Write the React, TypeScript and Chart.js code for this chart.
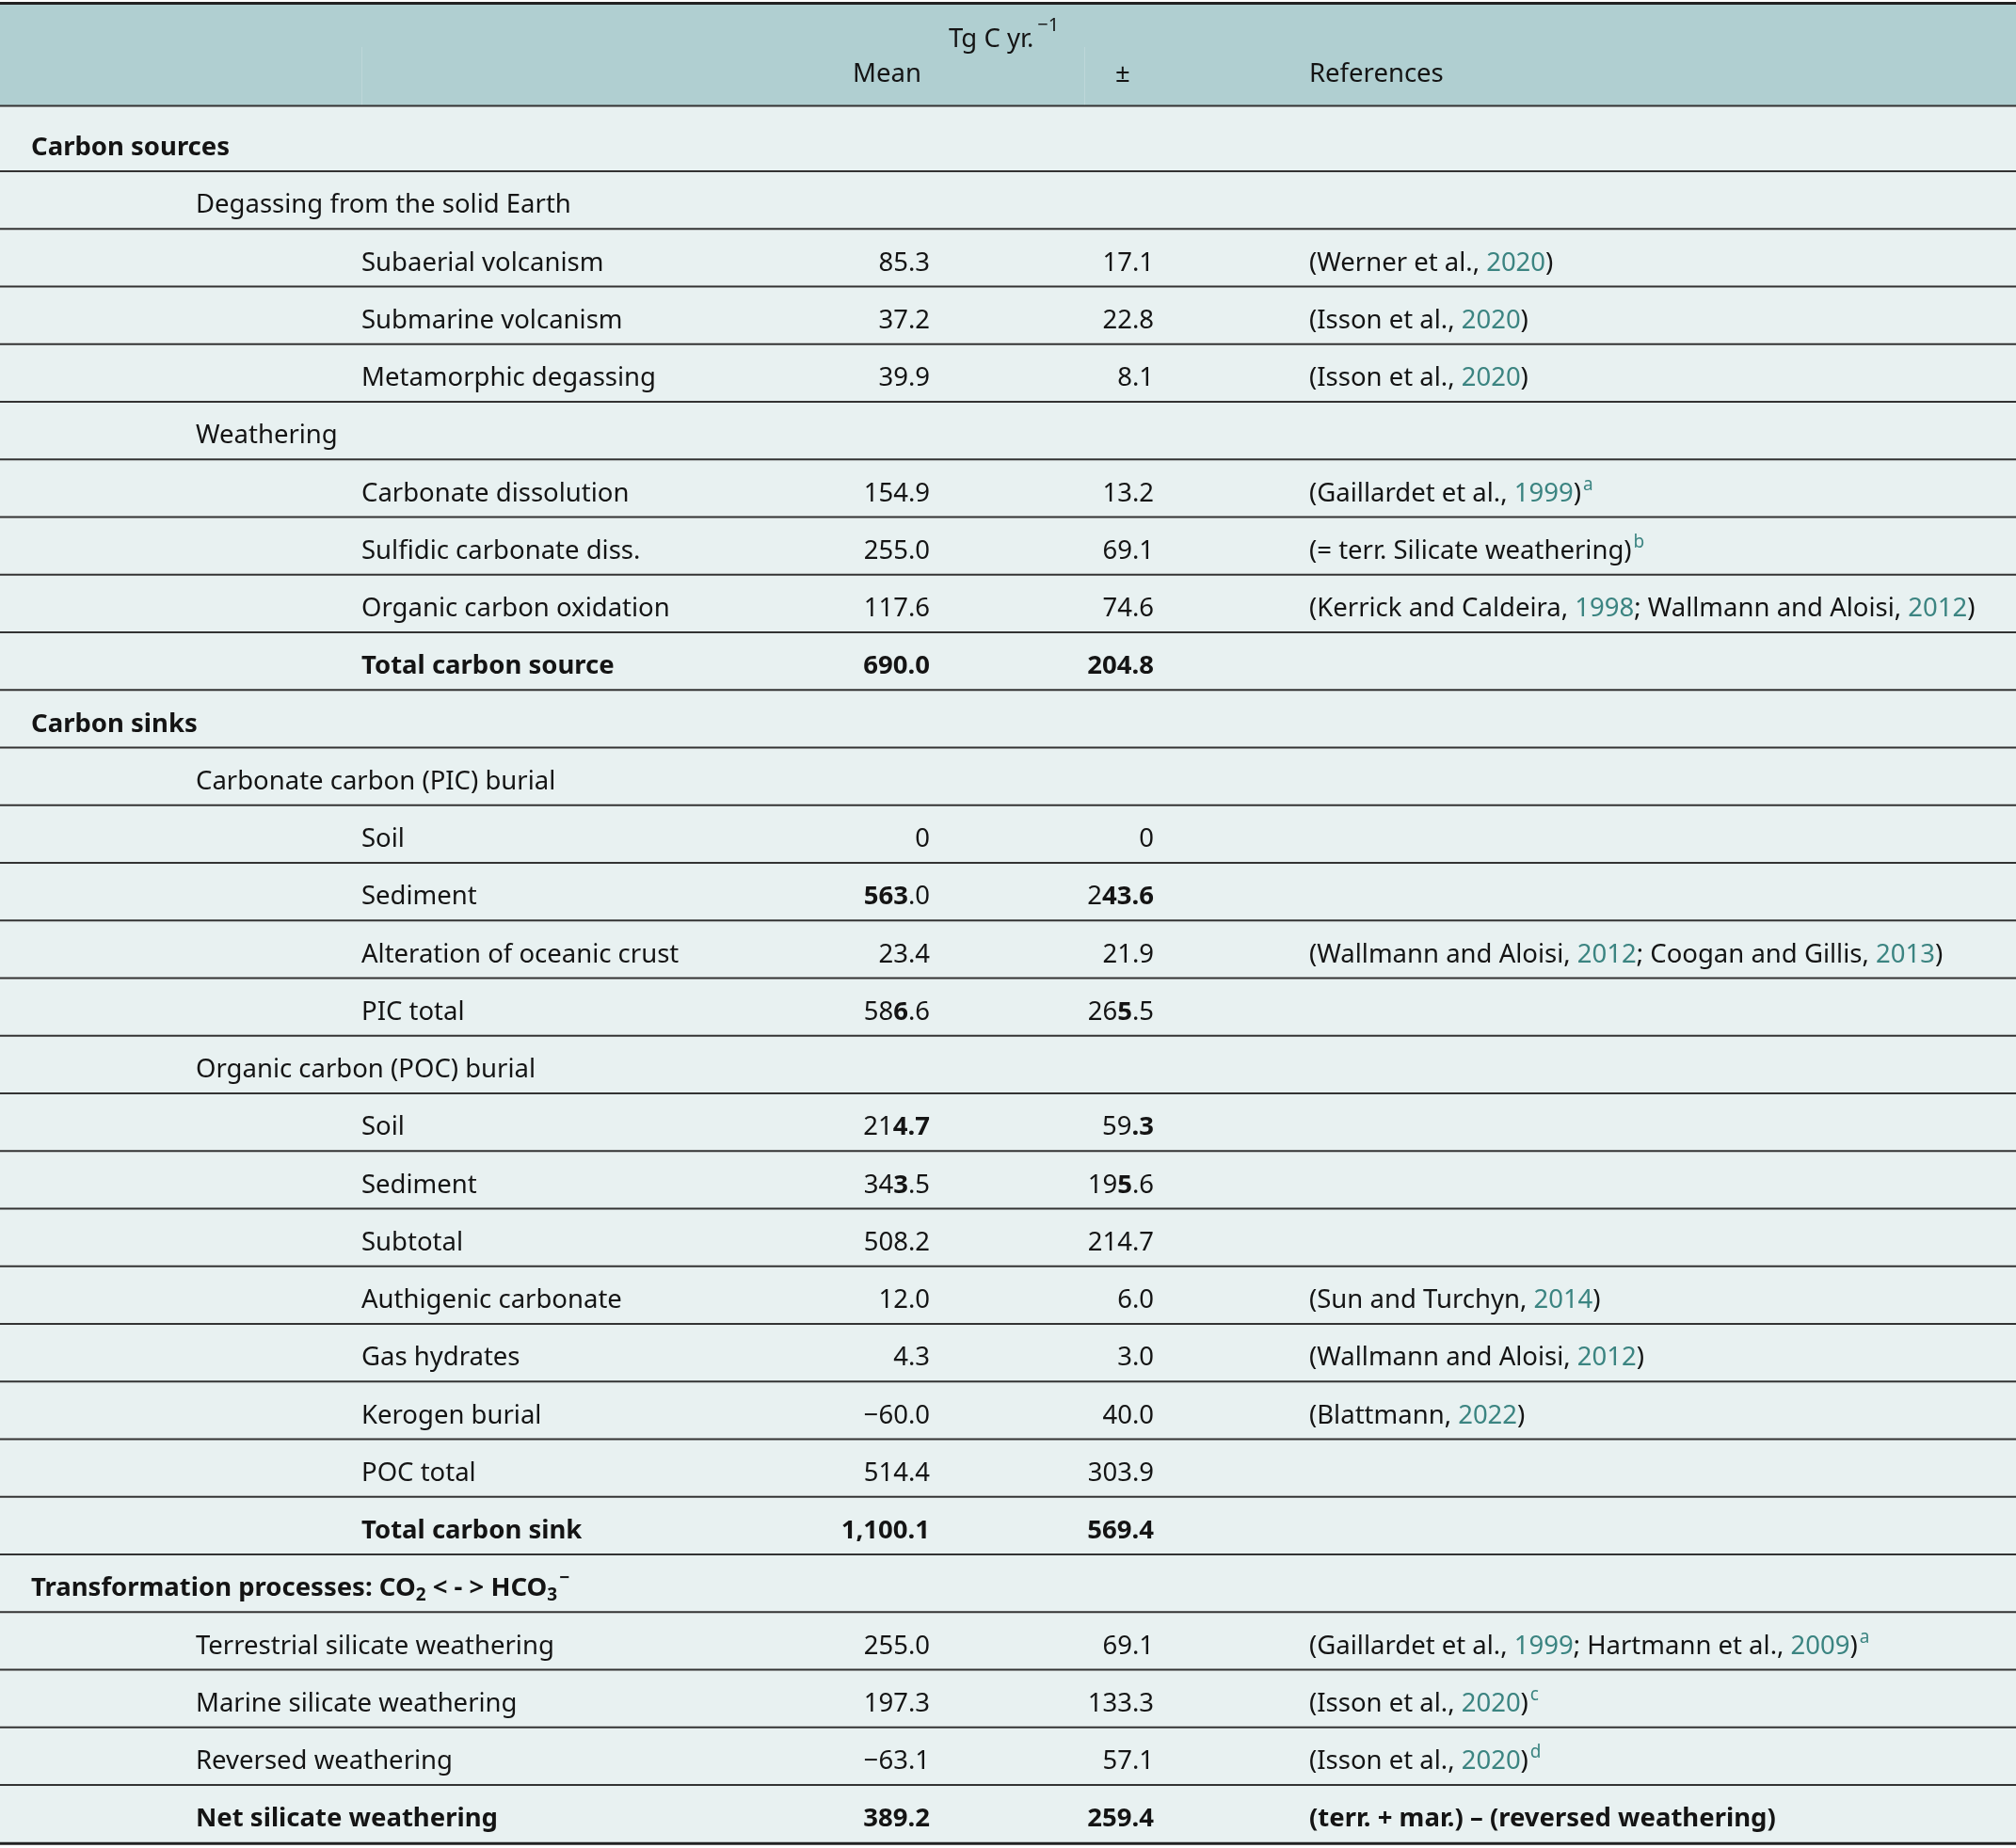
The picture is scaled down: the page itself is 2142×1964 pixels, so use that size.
import { useEffect, useRef } from "react";
import { Chart, registerables } from "chart.js";

Chart.register(...registerables);

// ---------- table content ----------
const headerUnit = "Tg C yr.^(−1)";
const headerColumns = ["Mean", "±", "References"];

const rowLabels = [
  "Carbon sources",
  "Degassing from the solid Earth",
  "Subaerial volcanism",
  "Submarine volcanism",
  "Metamorphic degassing",
  "Weathering",
  "Carbonate dissolution",
  "Sulfidic carbonate diss.",
  "Organic carbon oxidation",
  "Total carbon source",
  "Carbon sinks",
  "Carbonate carbon (PIC) burial",
  "Soil",
  "Sediment",
  "Alteration of oceanic crust",
  "PIC total",
  "Organic carbon (POC) burial",
  "Soil",
  "Sediment",
  "Subtotal",
  "Authigenic carbonate",
  "Gas hydrates",
  "Kerogen burial",
  "POC total",
  "Total carbon sink",
  "Transformation processes: CO_(2) < - > HCO_(3)^(−)",
  "Terrestrial silicate weathering",
  "Marine silicate weathering",
  "Reversed weathering",
  "Net silicate weathering",
];

const rowLevels = [
  0, 1, 2, 2, 2, 1, 2, 2, 2, 2,
  0, 1, 2, 2, 2, 2, 1, 2, 2, 2,
  2, 2, 2, 2, 2, 0, 1, 1, 1, 1,
];

const rowBold = [
  true, false, false, false, false, false, false, false, false, true,
  true, false, false, false, false, false, false, false, false, false,
  false, false, false, false, true, true, false, false, false, true,
];

const meanValues = [
  "", "", "85.3", "37.2", "39.9", "", "154.9", "255.0", "117.6", "690.0",
  "", "", "0", "*563*.0", "23.4", "58*6*.6", "", "21*4.7*", "34*3*.5", "508.2",
  "12.0", "4.3", "−60.0", "514.4", "1,100.1", "", "255.0", "197.3", "−63.1", "389.2",
];

const pmValues = [
  "", "", "17.1", "22.8", "8.1", "", "13.2", "69.1", "74.6", "204.8",
  "", "", "0", "2*43.6*", "21.9", "26*5*.5", "", "59*.3*", "19*5*.6", "214.7",
  "6.0", "3.0", "40.0", "303.9", "569.4", "", "69.1", "133.3", "57.1", "259.4",
];

const references = [
  "", "",
  "(Werner et al., {2020})",
  "(Isson et al., {2020})",
  "(Isson et al., {2020})",
  "",
  "(Gaillardet et al., {1999}){^(a)}",
  "(= terr. Silicate weathering){^(b)}",
  "(Kerrick and Caldeira, {1998}; Wallmann and Aloisi, {2012})",
  "",
  "", "", "", "",
  "(Wallmann and Aloisi, {2012}; Coogan and Gillis, {2013})",
  "", "", "", "", "",
  "(Sun and Turchyn, {2014})",
  "(Wallmann and Aloisi, {2012})",
  "(Blattmann, {2022})",
  "", "", "",
  "(Gaillardet et al., {1999}; Hartmann et al., {2009}){^(a)}",
  "(Isson et al., {2020}){^(c)}",
  "(Isson et al., {2020}){^(d)}",
  "(terr. + mar.) – (reversed weathering)",
];

// ---------- layout / style ----------
const W = 2142;
const H = 1964;
const TOP_RULE = 3.5;
const HEADER_BOTTOM = 112.5;
const FIRST_ROW_BOTTOM = 182;
const ROW_H = 61.25;
const LEVEL_X = [33, 208, 384];
const MEAN_RIGHT = 988;
const PM_RIGHT = 1226;
const REF_X = 1391;
const HEADER_X = [906, 1185, 1391];
const UNIT_X = 1008;
const FS = 27.5;
const SMALL_FS = 19;
const FONT = '"Noto Sans", "Open Sans", sans-serif';
const INK = "#141414";
const TEAL = "#3b8481";
const HEADER_BG = "#b0cfd1";
const BODY_BG = "#e8f1f1";
const RULE = "#333333";

type Seg = { text: string; bold: boolean; teal: boolean; mode: "n" | "sup" | "sub" };

function parseRich(s: string, baseBold: boolean): Seg[] {
  const segs: Seg[] = [];
  let bold = baseBold;
  let teal = false;
  let mode: "n" | "sup" | "sub" = "n";
  let buf = "";
  const flush = () => {
    if (buf) {
      segs.push({ text: buf, bold, teal, mode });
      buf = "";
    }
  };
  for (let i = 0; i < s.length; i++) {
    const c = s[i];
    if (c === "*") { flush(); bold = !bold; continue; }
    if (c === "{") { flush(); teal = true; continue; }
    if (c === "}") { flush(); teal = false; continue; }
    if ((c === "^" || c === "_") && s[i + 1] === "(") {
      flush();
      mode = c === "^" ? "sup" : "sub";
      i++;
      continue;
    }
    if (c === ")" && mode !== "n") { flush(); mode = "n"; continue; }
    buf += c;
  }
  flush();
  return segs;
}

function drawRich(
  ctx: CanvasRenderingContext2D,
  s: string,
  x: number,
  y: number,
  align: "left" | "right",
  baseBold: boolean,
  supRaise: number,
  supSize: number = SMALL_FS,
  supGap: number = 2
) {
  const segs = parseRich(s, baseBold);
  const fontFor = (g: Seg) => `${g.bold ? 700 : 400} ${g.mode === "n" ? FS : g.mode === "sup" ? supSize : SMALL_FS}px ${FONT}`;
  const widths = segs.map((g) => {
    ctx.font = fontFor(g);
    return ctx.measureText(g.text).width + (g.mode === "sup" ? supGap : 0);
  });
  const total = widths.reduce((a, b) => a + b, 0);
  let cx = align === "right" ? x - total : x;
  ctx.textAlign = "left";
  ctx.textBaseline = "alphabetic";
  segs.forEach((g, i) => {
    ctx.font = fontFor(g);
    ctx.fillStyle = g.teal ? TEAL : INK;
    const dy = g.mode === "sup" ? -supRaise : g.mode === "sub" ? 5 : 0;
    ctx.fillText(g.text, cx + (g.mode === "sup" ? supGap : 0), y + dy);
    cx += widths[i];
  });
}

const tablePlugin = {
  id: "tableDraw",
  beforeDatasetsDraw(chart: any) {
    const ctx: CanvasRenderingContext2D = chart.ctx;
    const xs = chart.scales.x;
    const ys = chart.scales.y;
    const px = (v: number) => xs.getPixelForValue(v);
    const py = (v: number) => ys.getPixelForValue(v);
    const rowBottom = (i: number) => FIRST_ROW_BOTTOM + i * ROW_H;
    const n = rowLabels.length;
    const tableBottom = rowBottom(n - 1);

    ctx.save();
    // backgrounds
    ctx.fillStyle = HEADER_BG;
    ctx.fillRect(px(0), py(TOP_RULE), px(W) - px(0), py(HEADER_BOTTOM) - py(TOP_RULE));
    ctx.fillStyle = BODY_BG;
    ctx.fillRect(px(0), py(HEADER_BOTTOM), px(W) - px(0), py(tableBottom) - py(HEADER_BOTTOM));

    // faint header cell borders
    ctx.lineWidth = 1;
    ctx.strokeStyle = "rgba(255,255,255,0.18)";
    [384, 1152].forEach((x) => {
      ctx.beginPath();
      ctx.moveTo(px(x) + 0.5, py(50));
      ctx.lineTo(px(x) + 0.5, py(HEADER_BOTTOM));
      ctx.stroke();
    });

    // rules
    const hline = (y: number, w: number, color: string) => {
      ctx.strokeStyle = color;
      ctx.lineWidth = w;
      ctx.beginPath();
      ctx.moveTo(px(0), py(y));
      ctx.lineTo(px(W), py(y));
      ctx.stroke();
    };
    hline(TOP_RULE, 3, "#222222");
    hline(HEADER_BOTTOM, 2, RULE);
    for (let i = 0; i < n - 1; i++) hline(rowBottom(i), 2, RULE);
    hline(tableBottom + 1, 3, "#222222");

    // header text
    drawRich(ctx, headerUnit, px(UNIT_X), py(50), "left", false, 17, 20, 4);
    headerColumns.forEach((t, i) => drawRich(ctx, t, px(HEADER_X[i]), py(87), "left", false, 12));

    // body text
    for (let i = 0; i < n; i++) {
      const base = py(rowBottom(i) - 17);
      const b = rowBold[i];
      drawRich(ctx, rowLabels[i], px(LEVEL_X[rowLevels[i]]), base, "left", b, 13);
      if (meanValues[i]) drawRich(ctx, meanValues[i], px(MEAN_RIGHT), base, "right", b, 12);
      if (pmValues[i]) drawRich(ctx, pmValues[i], px(PM_RIGHT), base, "right", b, 12);
      if (references[i]) drawRich(ctx, references[i], px(REF_X), base, "left", b, 12);
    }
    ctx.restore();
  },
};

export default function App() {
  const canvasRef = useRef<HTMLCanvasElement | null>(null);

  useEffect(() => {
    document.body.style.margin = "0";
    const canvas = canvasRef.current;
    if (!canvas) return;
    const chart = new Chart(canvas, {
      type: "scatter",
      data: { datasets: [{ data: [], pointRadius: 0 }] },
      options: {
        responsive: false,
        animation: false,
        devicePixelRatio: 1,
        layout: { padding: 0 },
        plugins: { legend: { display: false }, tooltip: { enabled: false } },
        scales: {
          x: { type: "linear", min: 0, max: W, display: false },
          y: { type: "linear", min: 0, max: H, reverse: true, display: false },
        },
      },
      plugins: [tablePlugin],
    });
    return () => chart.destroy();
  }, []);

  return (
    <canvas
      ref={canvasRef}
      width={W}
      height={H}
      style={{ display: "block", width: W, height: H, background: "#ffffff" }}
    />
  );
}
